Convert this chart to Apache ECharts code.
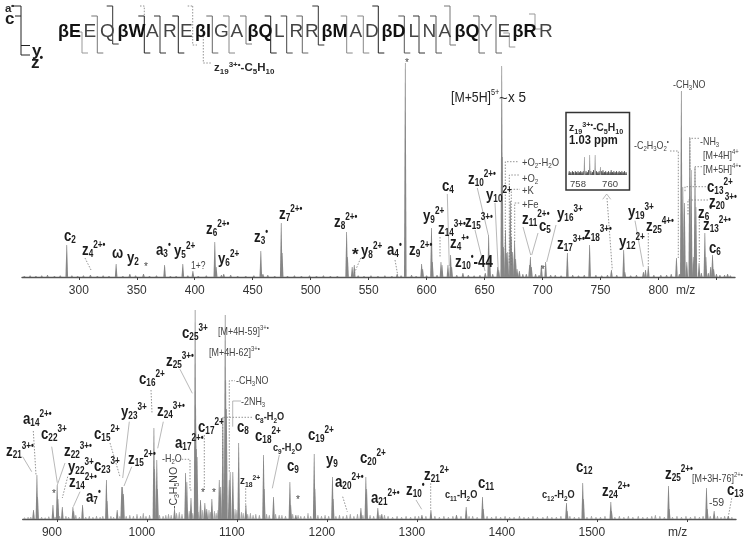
<!DOCTYPE html>
<html>
<head>
<meta charset="utf-8">
<script src="https://cdn.jsdelivr.net/npm/echarts@6/dist/echarts.min.js"></script>
<style>html,body{margin:0;background:#fff}#main{width:750px;height:547px}</style>
</head>
<body>
<div id="main"></div>
<script>
// m/z, relative height
var topPeaks = [[289.6,32],[310,2],[332.2,13],[344,3],[355.8,3],[374,12],[389.7,13],[398.4,6],[417.3,35],[418.5,10],[425,3],
    [457,26],[458.8,3],[474.6,54],[475.4,24],[531,45],[531.8,20],[535.8,10],[537.6,12],[574.6,3],[581.6,214],[595.7,13],[596.6,8],
    [604.2,49],[605,15],[612.4,15],[613.3,12],[618.4,12],[620.7,22],[621.6,10],[631.3,4],[650.6,4],[653.5,42],[654.4,20],[661.3,10],[662.2,7],
    [664.8,211],[665.3,120],[666.4,30],[668,47],[668.8,24],[670,25],[672.2,76],[673,40],[674.2,25],[675.9,36],[676.8,18],[678,8],[680,6],
    [688.8,12],[689.5,20],[690.4,10],[699,12],[702.7,15],[721.4,24],[740.6,32],[759.4,7],[770,27],[771,5],[787,5],[788.8,7],[791.2,10],
    [815.5,19],[819.7,186],[821,90],[822.4,74],[824.4,15],[827,140],[828.2,107],[830,20],[831.5,110],[832.3,70],[835,14],[840,44],[840.9,20],[845,10],[846.6,22],[847.6,8],[859.6,3]];
var topNoise = [[253,1],[258,1.5],[263,1],[268,1.5],[273,2],[279,1],[284,1.5],[294,1.5],[299,1],[304,1.5],[316,1],[321,1.5],[326,1],[338,1],[349,1.5],[361,1],[367,1.5],
    [379,1],[384,1],[394,1.5],[403,1],[410,1.5],[423,2],[431,2],[437,1],[444,1],[451,1.5],[463,2],[469,1],[480,1],[486,1.5],[492,1],[499,1.5],[505,1],[511,1.5],[517,1],[523,1],
    [541,1.5],[546,1],[552,1.5],[558,1],[564,1.5],[570,1],[578,1.5],[587,2],[591,1],[600,1.5],[609,2],[626,2],[636,2],[641,1.5],[646,2],[657,3],[683,3],[686,3],[694,3],[697,2],
    [707,2],[711,2],[716,1.5],[726,2],[731,1.5],[736,2],[746,2],[751,1.5],[756,2],[764,2],[776,1.5],[781,2],[796,2],[802,2],[807,2],[811,3],[818,3],[837,4],[843,4],[850,3],[853,2],[857,2],[862,1.5]];
var topTicks = [300,350,400,450,500,550,600,650,700,750,800,850];
var topTickLabels = [300,350,400,450,500,550,600,650,700,750,800];

var bottomPeaks = [[874,9],[877.8,44],[878.6,22],[895.6,14],[900.3,34],[901.2,20],[906,12],[917.8,12],[918.6,8],[928.5,14],[955,39],[955.8,18],[967,9],[972,32],[973,32],[974,25],
    [1007.8,91],[1008.6,50],[1011,59],[1011.8,30],[1030.7,10],[1043,46],[1044.4,37],[1049,21],[1053.6,209],[1054.2,112],[1055,70],[1055.8,62],[1059.6,19],[1064.4,16],[1066.5,10],[1072.2,20],
    [1080.4,39],[1082,32],[1084.4,102],[1087,204],[1087.6,139],[1088.4,110],[1091.5,39],[1092.5,47],[1095.5,47],[1102,76],[1110,14],[1129.6,64],[1130.4,30],[1140.7,22],[1158.9,37],[1159.8,14],[1165.5,4],
    [1185.9,65],[1186.7,30],[1206.2,42],[1207,20],[1237.8,11],[1243.3,42],[1244.2,30],[1256.6,11],[1261,5],[1305.6,4],[1315.6,9],[1344,4],[1354.8,12],[1372.9,22],[1373.8,10],[1466.2,16],[1467,8],
    [1484.3,36],[1485.2,20],[1515.5,17],[1516.3,8],[1579.6,33],[1580.4,10],[1621.8,31],[1622.7,10],[1630.3,8],[1646,3]];
var bottomNoise = [[864,1.5],[868,2],[871,2],[883,2],[887,1.5],[891,2.5],[898,2],[903,3],[910,3],[913,2],[921,4],[925,2],[932,2],[936,3],[940,2],[944,3],[948,2],[951,3],[960,3],[963,2],[970,3],[977,3],
    [981,4],[985,3],[989,5],[993,3],[996,6],[999,3],[1003,4],[1014,4],[1018,3],[1021,4],[1024,5],[1027,4],[1033,6],[1036,7],[1039,5],[1047,8],[1051,6],[1057,7],[1062,9],[1069,9],[1070.5,7],[1075,8],[1077,6],[1079,9],
    [1098,10],[1100,9],[1105,7],[1107,6],[1112,5],[1115,6],[1118,4],[1121,5],[1125,4],[1133,5],[1136,4],[1143,5],[1147,4],[1150,4],[1154,3],[1162,5],[1168,4],[1171,3],[1175,3],[1179,6],[1182,3],[1190,4],[1194,3],[1198,4],[1202,3],
    [1210,3],[1214,4],[1218,3],[1222,4],[1226,5],[1230,3],[1234,5],[1240,4],[1248,4],[1252,3],[1259,4],[1264,4],[1268,3],[1273,2],[1278,3],[1283,2],[1288,3],[1293,2],[1298,3],[1302,3],[1310,3],[1320,3],[1325,2],[1330,3],[1335,2],[1340,3],
    [1349,3],[1358,3],[1362,3],[1367,2],[1378,3],[1383,2],[1388,3],[1393,2],[1398,3],[1403,2],[1408,2],[1414,3],[1419,2],[1424,2],[1429,3],[1434,2],[1440,2],[1445,3],[1450,2],[1455,2],[1460,3],[1470,3],[1475,2],[1480,2],[1489,2],
    [1494,3],[1499,2],[1504,2],[1509,3],[1520,2],[1525,3],[1530,2],[1535,3],[1540,2],[1546,3],[1551,2],[1556,2],[1561,3],[1565,4],[1570,3],[1575,2],[1584,2],[1589,3],[1594,2],[1599,3],[1604,2],[1609,3],[1614,2],[1618,3],[1626,3],[1634,3],[1638,2],[1642,3],[1650,2]];
var bottomTicks = [900,1000,1100,1200,1300,1400,1500,1600];
var bottomTickLabels = [900,1000,1100,1200,1300,1400,1500];

var insetPeaks = [[758.4,18],[758.73,20],[759.07,20],[759.4,8]];
var insetNoise = [[757.45,4],[757.55,3],[757.65,4],[757.72,3],[757.83,4],[757.9,3],[758,4],[758.08,3],[758.17,4],[758.25,3],[758.33,4],[758.5,4],[758.58,3],[758.66,5],[758.8,4],[758.9,3],[758.97,5],[759.15,4],[759.24,3],[759.32,4],
    [759.48,4],[759.56,5],[759.65,3],[759.73,4],[759.82,3],[759.9,4],[760,3],[760.07,5],[760.15,3],[760.24,4],[760.32,3],[760.4,4],[760.5,3],[760.57,4],[760.66,3],[760.74,4],[760.82,3],[760.9,4],[761,3]];
var insetTicks = [758,760];

// sequence text across the top: [left x, text, bold]
var sequence = [[58,'βE',1],[83.5,'E',0],[100,'Q',0],[117.5,'βW',1],[146,'A',0],[163,'R',0],[180,'E',0],[195,'βI',1],[214,'G',0],[230.5,'A',0],[247.5,'βQ',1],[274,'L',0],[289.5,'R',0],[305,'R',0],[321.5,'βM',1],[349.5,'A',0],[365,'D',0],
    [381.5,'βD',1],[408.5,'L',0],[422.5,'N',0],[438.5,'A',0],[454.5,'βQ',1],[480,'Y',0],[497.5,'E',0],[512.5,'βR',1],[539,'R',0]];
// cleavage brackets: [x, top, bottom, colour]
var brackets = [[82,32,53,'#999'],[97.3,16,53,'#777'],[112.7,6,44,'#333'],[144.3,16,53,'#222'],[160,16,53,'#333'],[178.3,16,53,'#222'],[212.3,16,53,'#666'],[229,16,53,'#888'],[246,16,44,'#777'],
    [270.7,16,53,'#222'],[286.7,16,53,'#444'],[302.3,16,53,'#666'],[318.3,6,45,'#333'],[346.7,16,53,'#888'],[363.3,16,53,'#888'],[378.3,6,53,'#222'],[404.3,16,53,'#555'],[419,16,53,'#333'],[436,16,53,'#555'],
    [450,6,45,'#777'],[479,16,53,'#666'],[496,16,53,'#666'],[509.3,33,47,'#999'],[535,14,29,'#999']];

// fragment labels: [x, y, base, sub, sup]
var bigLabels = [[64,236,'c','2',''],[82,250,'z','4','2+•'],[112,253,'ω','',''],[127,258,'y','2',''],[156,250,'a','3','•'],[174,251,'y','5','2+'],[206,229,'z','6','2+•'],[218,259,'y','6','2+'],
    [254,237,'z','3','•'],[279,214,'z','7','2+•'],[334,222,'z','8','2+•'],[361,251,'y','8','2+'],[387,250,'a','4','•'],[409,250,'z','9','2+•'],[423,216,'y','9','2+'],[442,186,'c','4',''],
    [438,229,'z','14','3+•'],[465,222,'z','15','3+•'],[450,243,'z','4','+•'],[468,179,'z','10','2+•'],[486,195,'y','10','2+'],[522,219,'z','11','2+•'],[539,226,'c','5',''],[557,214,'y','16','3+'],
    [557,244,'z','17','3+•'],[584,234,'z','18','3+•'],[619,242,'y','12','2+'],[628,212,'y','19','3+'],[646,226,'z','25','4+•'],[698,213,'z','6','•'],[703,225,'z','13','2+•'],[709,202,'z','20','3+•'],[707,187,'c','13','2+'],[709,248,'c','6',''],
    [6,451,'z','21','3+•'],[23,419,'a','14','2+•'],[41,434,'c','22','3+'],[64,451,'z','22','3+•'],[68,467,'y','22','3+'],[94,466,'c','23','3+'],[69,482,'z','14','2+•'],[86,497,'a','7','•'],[94,434,'c','15','2+'],
    [128,459,'z','15','2+•'],[121,412,'y','23','3+'],[139,379,'c','16','2+'],[157,411,'z','24','3+•'],[166,361,'z','25','3+•'],[182,333,'c','25','3+'],[198,427,'c','17','2+'],[175,443,'a','17','2+•'],
    [237,427,'c','8',''],[255,436,'c','18','2+'],[287,466,'c','9',''],[308,435,'c','19','2+'],[326,460,'y','9',''],[335,482,'a','20','2+•'],[360,458,'c','20','2+'],[371,498,'a','21','2+•'],[406,490,'z','10','•'],
    [424,475,'z','21','2+'],[478,483,'c','11',''],[576,467,'c','12',''],[602,491,'z','24','2+•'],[665,474,'z','25','2+•'],[727,490,'c','13','']];
// [x, y, rich text, horizontal squeeze]
var plainLabels = [[673,85,'{r|-CH}{x|3}{r|NO}',.85],[634,146,'{r|-C}{x|2}{r|H}{x|3}{r|O}{x|2}{t|•}',.85],[700,142,'{r|-NH}{x|3}',.85],[703,156,'{r|[M+4H]}{t|4+}',.85],[703,170,'{r|[M+5H]}{t|4+•}',.85],
    [522,163,'{r|+O}{x|2}{r|-H}{x|2}{r|O}',.9],[522,179,'{r|+O}{x|2}',.9],[522,191,'{r|+K}',.9],[522,205,'{r|+Fe}',.9],[191,266,'{o|1+?}',.85],
    [218,332,'{r|[M+4H-59]}{t|3+•}',.85],[209,353,'{r|[M+4H-62]}{t|3+•}',.85],[236,381,'{r|-CH}{x|3}{r|NO}',.85],[241,402,'{r|-2NH}{x|3}',.85],[162,459,'{r|-H}{x|2}{r|O}',.85],
    [692,479,'{r|[M+3H-76]}{t|2+•}',.85],[709,503,'{r|-59}',1],[668,533,'{a|m/z}',1],[676,291,'{a|m/z}',1],
    [451,98,'{h|[M+5H]}{v|5+}',.82],[499,99,'{h|~}',1],[508,98,'{h|x 5}',.9],
    [255,417,'{B|c}{S|8}{B|-H}{S|2}{B|O}',.8],[273,448,'{B|c}{S|9}{B|-H}{S|2}{B|O}',.8],[240,481,'{B|z}{S|18}{U|2+}',.85],[445,495,'{B|c}{S|11}{B|-H}{S|2}{B|O}',.8],[542,495,'{B|c}{S|12}{B|-H}{S|2}{B|O}',.8],
    [455,262,'{b|z}{s|10}{u|•}{b|-44}',.78],[214,68,'{B|z}{S|19}{U|3+•}{B|-C}{S|5}{B|H}{S|10}',1],[569,128,'{B|z}{S|19}{U|3+•}{B|-C}{S|5}{B|H}{S|10}',.9],[569,141,'{P|1.03 ppm}',.9],
    [5,9,'{B|a}{U|•}',1],[5,19,'{b|c}',1],[32,51,'{b|y}',1],[31,63,'{b|z}{u|•}',1],
    [405,63,'{o|*}',1],[144,267,'{o|*}',1],[352,255,'{b|*}',1],[541,270,'{o|*}',1],[52,494,'{o|*}',1],[201,493,'{o|*}',1],[212,493,'{o|*}',1],[296,500,'{o|*}',1]];

// annotation leader lines
var dotted = [[[85,258],[91,270]],[[360.7,258],[354,274]],[[395,260],[397.7,275]],[[440,237],[440,258]],[[505.3,250],[505.3,161.7],[519,161.7]],[[509.3,263],[509.3,175],[519,175]],[[511.3,265],[511.3,189.3],[520,189.3]],
    [[514.7,242],[514.7,203],[520,203]],[[607,198],[612.3,270]],[[648.3,233],[648.3,267]],[[670,151],[678.3,151],[678.3,258]],[[699,138.3],[690,138.3],[690,170]],[[702,166.7],[695,166.7],[695,185]],[[706,186.7],[685,186.7],[685,192]],
    [[708,200],[688,200],[688,215]],[[699.3,219],[699.3,262]],[[33.3,431],[36,475]],[[67.7,476.7],[62.3,498]],[[110,443],[120,476.7]],[[151,390],[152,413]],[[204.3,435],[204.3,490]],[[181.7,459.3],[190,459.3],[190,490],[193,490]],
    [[229.3,471.7],[229.3,380.7],[235,380.7]],[[252,417.3],[222.7,417.3],[222.7,460]],[[245.7,488.3],[245.7,507]],[[342.7,496.7],[347.3,511.7]],[[430.7,483.3],[430.7,510]],[[731.7,498.3],[728.3,516.7]],[[192.7,6],[192.7,45],[197,45]],[[187.7,6],[192.7,6]],[[140,6],[144.3,6],[144.3,16]],[[203.3,33],[203.3,63],[212,63]]];
var solid = [[[447.3,194],[449.3,266]],[[475,230],[485,271]],[[477.3,188],[488.3,235]],[[495,203],[498.3,271]],[[523,227],[530.7,255]],[[538,233],[531.7,255]],[[556,225],[546.7,262]],[[635,220.7],[643.3,266.7]],
    [[22.7,456.7],[31.7,471.7]],[[51.7,446.7],[57.3,482.7]],[[65,463],[57.3,485]],[[80,491.7],[73.3,506.7]],[[131.7,466.7],[124,486]],[[129.3,421.7],[122.7,478]],[[163.3,421.7],[157.7,448.3]],[[180,369.3],[192.3,393.3]],
    [[241,401],[232.7,401],[232.7,426.7]],[[279.3,455],[272.3,488.3]],[[416,500],[421.7,509.3]],[[602.7,199.3],[606.7,194],[610.7,199.3]]];

var font = '"Liberation Sans", Arial, sans-serif';
function tok(size, weight, color, align, lh) {
    return {fontFamily: font, fontSize: size, fontWeight: weight, fill: color, color: color, verticalAlign: align || 'middle', lineHeight: lh || 20};
}
var rich = {
    b: tok(17, 'bold', '#1c1c1c'), s: tok(10.5, 'bold', '#1c1c1c', 'bottom'), u: tok(10.5, 'bold', '#1c1c1c', 'top'),
    B: tok(11.5, 'bold', '#2a2a2a', 'middle', 15), S: tok(8, 'bold', '#2a2a2a', 'bottom', 15), U: tok(8, 'bold', '#2a2a2a', 'top', 15),
    P: tok(12.5, 'bold', '#1c1c1c', 'middle', 15),
    r: tok(10.5, 'normal', '#444', 'middle', 14), x: tok(7, 'normal', '#444', 'bottom', 14), t: tok(7, 'normal', '#444', 'top', 14),
    h: tok(15, 'normal', '#222', 'middle', 20), v: tok(9, 'normal', '#222', 'top', 20),
    o: tok(10, 'normal', '#444', 'middle', 14), a: tok(12, 'normal', '#333', 'middle', 14)
};

var gfx = [];
function addText(x, y, text, squeeze) {
    gfx.push({type: 'text', x: x, y: y, scaleX: squeeze, z: 10, silent: true,
        style: {text: text, rich: rich, align: 'left', verticalAlign: 'middle'}});
}
function addLine(points, color, width, dash) {
    gfx.push({type: 'polyline', z: 9, silent: true, shape: {points: points},
        style: {stroke: color, lineWidth: width, lineDash: dash || null, fill: null}});
}

bigLabels.forEach(function (l) {
    var t = '{b|' + l[2] + '}';
    if (l[3]) t += '{s|' + l[3] + '}';
    if (l[4]) t += '{u|' + l[4] + '}';
    addText(l[0], l[1], t, 0.78);
});
plainLabels.forEach(function (l) { addText(l[0], l[1], l[2], l[3]); });
gfx.push({type: 'text', x: 174, y: 488, rotation: Math.PI / 2, z: 10, silent: true,
    style: {text: '{r|-C}{x|3}{r|H}{x|5}{r|NO}', rich: rich, align: 'center', verticalAlign: 'middle'}});

sequence.forEach(function (s) {
    gfx.push({type: 'text', x: s[0], y: 32, z: 10, silent: true, style: {
        text: s[1], align: 'left', verticalAlign: 'middle', fontFamily: font, fontSize: s[2] ? 18 : 19,
        fontWeight: s[2] ? 'bold' : 'normal', fill: s[2] ? '#111' : '#444'}});
});
brackets.forEach(function (b) {
    addLine([[b[0] - 6, b[1]], [b[0], b[1]], [b[0], b[2]], [b[0] + 6, b[2]]], b[3], 1);
});
// bracket key at the top left
addLine([[11, 6], [21, 6], [21, 55], [30, 55]], '#222', 1);
addLine([[15, 16], [21, 16]], '#222', 1);
addLine([[21, 45.5], [30, 45.5]], '#222', 1);

dotted.forEach(function (d) { addLine(d, '#777', 0.8, [1.5, 1.5]); });
solid.forEach(function (d) { addLine(d, '#999', 0.7); });

// inset box
gfx.push({type: 'rect', z: 9, silent: true, shape: {x: 566, y: 112.5, width: 63.5, height: 77.5},
    style: {fill: null, stroke: '#333', lineWidth: 1.5}});

function stickSeries(name, xi, data, color, half) {
    return {
        name: name, type: 'custom', xAxisIndex: xi, yAxisIndex: xi, data: data, silent: true, animation: false,
        encode: {x: 0, y: 1},
        renderItem: function (params, api) {
            var base = api.coord([api.value(0), 0]);
            var tip = api.coord([api.value(0), api.value(1)]);
            return {type: 'polygon', shape: {points: [[base[0] - half, base[1]], [tip[0] - 0.35, tip[1]], [tip[0] + 0.35, tip[1]], [base[0] + half, base[1]]]},
                style: {fill: color}};
        }
    };
}
function xAxis(grid, min, max, ticks, labelOpt) {
    return {
        type: 'value', gridIndex: grid, min: min, max: max, splitLine: {show: false},
        axisLine: {show: grid < 2, onZero: false, lineStyle: {color: '#555', width: 1.4}},
        axisTick: {show: grid < 2, length: 3, customValues: ticks, lineStyle: {color: '#444'}},
        axisLabel: labelOpt
    };
}
function labelStyle(values, size, margin, padding, color) {
    return {customValues: values, fontFamily: font, fontSize: size, margin: margin, color: color, padding: padding,
        formatter: function (v) { return String(v); }};
}
function yAxis(grid, max) {
    return {type: 'value', gridIndex: grid, min: 0, max: max, show: false};
}

var option = {
    animation: false,
    backgroundColor: '#fff',
    grid: [
        {left: 22, top: 57, width: 713, height: 220},
        {left: 22.7, top: 299, width: 713.3, height: 220},
        {left: 568, top: 150, width: 59, height: 25}
    ],
    xAxis: [
        xAxis(0, 251, 866, topTicks, labelStyle(topTickLabels, 12, 8, 0, '#333')),
        xAxis(1, 862, 1654.6, bottomTicks, labelStyle(bottomTickLabels, 12, 8, [0, 10, 0, 0], '#333')),
        xAxis(2, 757.375, 761.06, insetTicks, labelStyle(insetTicks, 9.5, 4, 0, '#444'))
    ],
    yAxis: [yAxis(0, 220), yAxis(1, 220), yAxis(2, 25)],
    series: [
        stickSeries('top noise', 0, topNoise, '#8a8a8a', 1.2),
        stickSeries('top peaks', 0, topPeaks, '#868686', 1.3),
        stickSeries('bottom noise', 1, bottomNoise, '#a8a8a8', 1.2),
        stickSeries('bottom peaks', 1, bottomPeaks, '#868686', 1.3),
        stickSeries('inset noise', 2, insetNoise, '#555', 1),
        stickSeries('inset peaks', 2, insetPeaks, '#999', 0.8)
    ],
    graphic: {elements: gfx}
};

var myChart = echarts.init(document.getElementById('main'), null, {renderer: 'canvas'});
myChart.setOption(option);
</script>
</body>
</html>
